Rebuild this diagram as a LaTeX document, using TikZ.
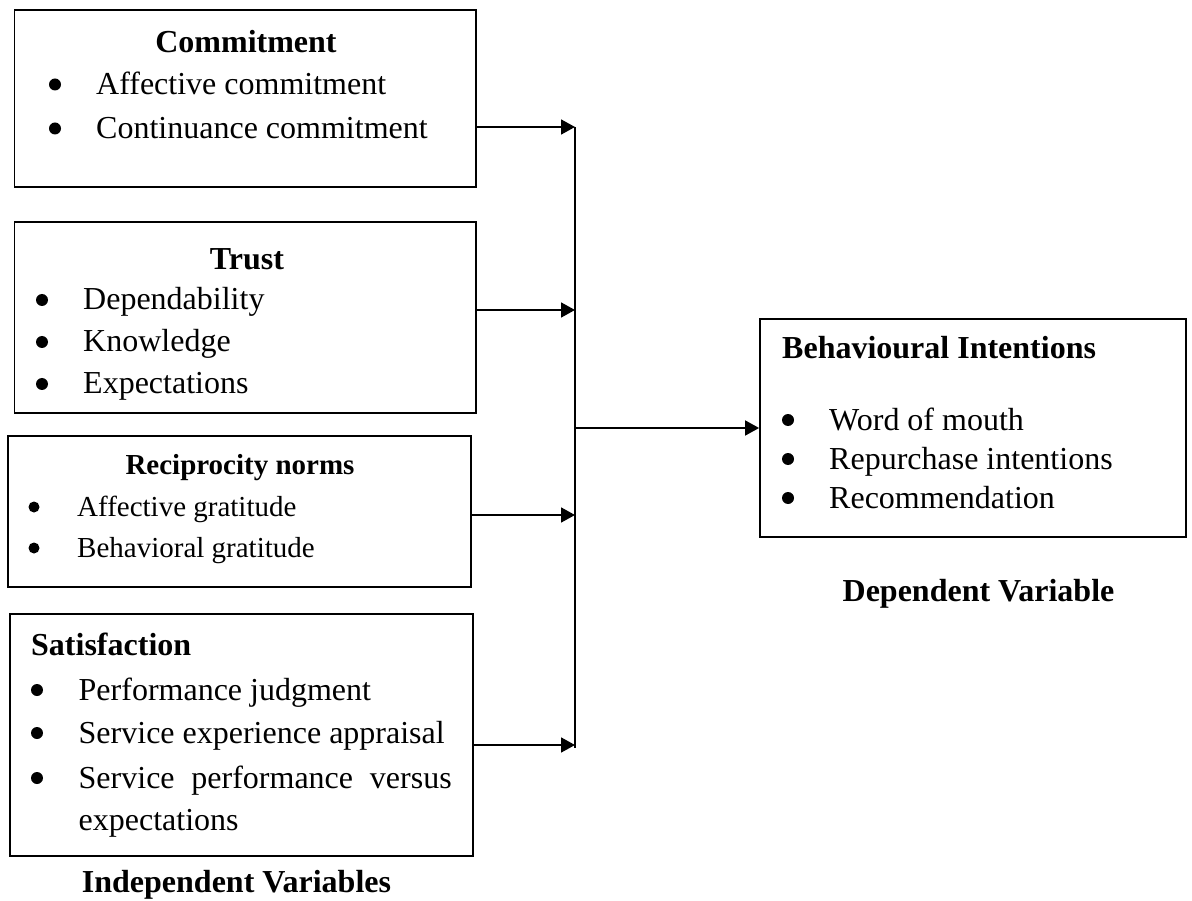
\documentclass[tikz,border=0pt]{standalone}
\usepackage{fontspec}
\setmainfont{Liberation Serif}
\usetikzlibrary{arrows.meta,fit}
\begin{document}
\begin{tikzpicture}[x=1pt,y=-1pt,
  box/.style={draw, line width=1.8pt, inner sep=0pt},
  conn/.style={line width=1.8pt},
  arr/.style={line width=1.8pt, -{Triangle[length=14pt,width=15pt]}},
  big/.style={inner sep=0pt, font=\fontsize{32}{38}\selectfont},
  small/.style={inner sep=0pt, font=\fontsize{29}{35}\selectfont},
  bigb/.style={inner sep=0pt, font=\fontsize{32}{38}\selectfont\bfseries},
  smallb/.style={inner sep=0pt, font=\fontsize{29}{35}\selectfont\bfseries},
  item/.style={anchor=base west},
  bul/.style={circle, fill=black, inner sep=0pt, minimum size=12pt},
  sbul/.style={circle, fill=black, inner sep=0pt, minimum size=11pt}]
\useasboundingbox (0,0) rectangle (1192,901);
\fill[white] (0,0) rectangle (1192,901);

% box corners
\coordinate (b1a) at (14.5,10);  \coordinate (b1z) at (476,187);
\coordinate (b2a) at (14.5,222); \coordinate (b2z) at (476,413);
\coordinate (b3a) at (7.7,436);  \coordinate (b3z) at (471,587);
\coordinate (b4a) at (9.6,614);  \coordinate (b4z) at (473,856);
\coordinate (bia) at (760,319);  \coordinate (biz) at (1186,537);

% boxes
\node[box, fit=(b1a)(b1z)] (b1) {};
\node[box, fit=(b2a)(b2z)] (b2) {};
\node[box, fit=(b3a)(b3z)] (b3) {};
\node[box, fit=(b4a)(b4z)] (b4) {};
\node[box, fit=(bia)(biz)] (bi) {};

% Commitment
\node[bigb, anchor=base] (c0) at (246,53) {Commitment};
\node[bul] (c1b) at (55,84.5) {};
\node[big, item] (c1) at (96,94.5) {Affective commitment};
\node[bul] (c2b) at (55,128.5) {};
\node[big, item] (c2) at (96,138.5) {Continuance commitment};

% Trust
\node[bigb, anchor=base] (tr0) at (247,270) {Trust};
\node[bul] (tr1b) at (42,300) {};
\node[big, item] (tr1) at (83,310) {Dependability};
\node[bul] (tr2b) at (42,342) {};
\node[big, item] (tr2) at (83,352) {Knowledge};
\node[bul] (tr3b) at (42,384) {};
\node[big, item] (tr3) at (83,394) {Expectations};

% Reciprocity norms
\node[smallb, anchor=base] (r0) at (240,474) {Reciprocity norms};
\node[sbul] (r1b) at (34,507) {};
\node[small, item] (r1) at (77,516) {Affective gratitude};
\node[sbul] (r2b) at (34,548) {};
\node[small, item] (r2) at (77,557) {Behavioral gratitude};

% Satisfaction
\node[bigb, anchor=base west] (s0) at (31,655) {Satisfaction};
\node[bul] (s1b) at (37,690) {};
\node[big, item] (s1) at (78.5,700) {Performance judgment};
\node[bul] (s2b) at (37,733) {};
\node[big, item] (s2) at (78.5,743) {Service experience appraisal};
\node[bul] (s3b) at (37,778) {};
\node[big, item] (s3) at (78.5,788) {\makebox[373pt][s]{Service performance versus}};
\node[big, item] (s4) at (78.5,830) {expectations};

% Behavioural Intentions
\node[bigb, anchor=base west] (i0) at (782,359) {Behavioural Intentions};
\node[bul] (i1b) at (788,420) {};
\node[big, item] (i1) at (829,430) {Word of mouth};
\node[bul] (i2b) at (788,459) {};
\node[big, item] (i2) at (829,469) {Repurchase intentions};
\node[bul] (i3b) at (788,498) {};
\node[big, item] (i3) at (829,508) {Recommendation};

% captions
\node[bigb, anchor=base] (dv) at (978.5,601) {Dependent Variable};
\node[bigb, anchor=base] (iv) at (236.5,892) {Independent Variables};

% connectors
\coordinate (j1) at (575,127);
\coordinate (j2) at (575,310);
\coordinate (j3) at (575,515);
\coordinate (j4) at (575,745);
\coordinate (jm) at (575,428);
\coordinate (jend) at (575,748);

\draw[conn] (j1) -- (jend);
\draw[arr] (b1.east |- j1) -- (j1);
\draw[arr] (b2.east |- j2) -- (j2);
\draw[arr] (b3.east |- j3) -- (j3);
\draw[arr] (b4.east |- j4) -- (j4);
\draw[arr] (jm) -- (bi.west);
\end{tikzpicture}
\end{document}
